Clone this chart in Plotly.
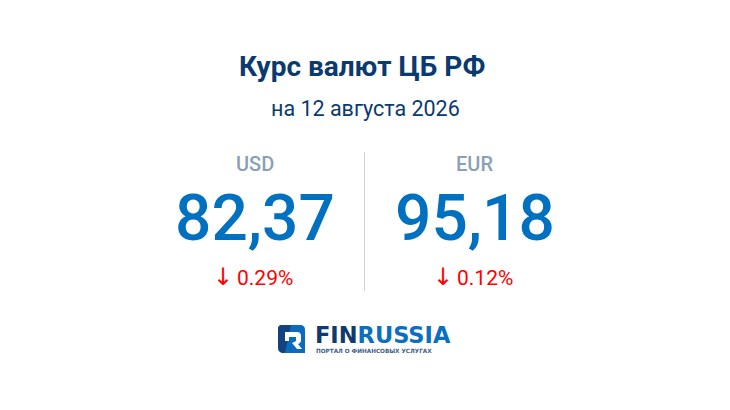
import plotly.graph_objects as go

title = "Курс валют ЦБ РФ"
subtitle = "на 12 августа 2026"
currencies = ["USD", "EUR"]
rates = ["82,37", "95,18"]
changes = ["0.29%", "0.12%"]

NAVY = "#0a3a6f"
BLUE = "#0070c0"
GREY = "#8a9fb8"
RED = "#ff0000"
FONT = "Roboto"

fig = go.Figure()
centers = [255, 475]


def label(x, y, text, size, color, anchor="center", weight=None, family=FONT):
    fig.add_annotation(
        x=x, y=y, xref="x", yref="y", text=text, showarrow=False,
        xanchor=anchor, yanchor="middle",
        font=dict(family=family, size=size, color=color, weight=weight),
    )


label(362, 66, title, 28, NAVY, weight=700)
label(365, 108, subtitle, 21.5, NAVY)
for cx, cur, rate, chg in zip(centers, currencies, rates, changes):
    label(cx - 0.5, 164, cur, 20, GREY, weight=500)
    label(cx, 218, rate, 64, BLUE, weight=500)
    label(cx - 32, 277, "↓", 24, RED, family="DejaVu Sans")
    label(cx + 10, 278, chg, 21, RED)

fig.add_shape(type="line", x0=364.5, x1=364.5, y0=152, y1=291,
              line=dict(color="#cdd4dc", width=1))

# logo mark
fig.add_shape(type="path", layer="above", line=dict(width=0), fillcolor="#0b6cbd",
              path="M 282 325 L 300 325 Q 305 325 305 330 L 305 353 L 284 353 Q 278 353 278 347 L 278 329 Q 278 325 282 325 Z")
fig.add_shape(type="path", layer="above", line=dict(width=0), fillcolor="#12437f",
              path="M 282 325 L 291 325 L 285 353 L 284 353 Q 278 353 278 347 L 278 329 Q 278 325 282 325 Z")
fig.add_shape(type="path", layer="above", line=dict(width=0), fillcolor="#ffffff",
              path="M 285 332 L 297 332 Q 301 332 301 336 L 301 340 Q 301 343 298 344 L 302 349 L 297 349 L 292 343 L 296 341 L 296 337 L 289 337 L 289 341 L 285 341 Z")
label(313, 335, '<span style="color:#0f3a6e">FIN</span><span style="color:#0b6fc0">RUSSIA</span>',
      22.5, NAVY, anchor="left", weight=700, family="DejaVu Sans")
label(314, 351, "ПОРТАЛ О ФИНАНСОВЫХ УСЛУГАХ", 5.7, "#3d5f8a", anchor="left", weight=700, family="DejaVu Sans")

fig.update_layout(
    width=730, height=410, margin=dict(l=0, r=0, t=0, b=0),
    paper_bgcolor="#ffffff", plot_bgcolor="#ffffff", showlegend=False,
    xaxis=dict(range=[0, 730], visible=False, fixedrange=True),
    yaxis=dict(range=[410, 0], visible=False, fixedrange=True),
)
fig.write_html("out.html", config={"displayModeBar": False},
               post_script="document.body.style.margin='0';")
